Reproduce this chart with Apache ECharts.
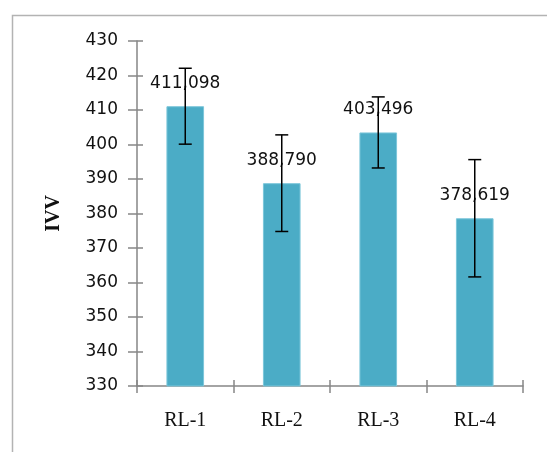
<!DOCTYPE html>
<html>
<head>
<meta charset="utf-8">
<script src="https://cdn.jsdelivr.net/npm/echarts@6/dist/echarts.min.js"></script>
<style>
html,body{margin:0;padding:0;background:#fff;}
#chart{width:547px;height:452px;}
</style>
</head>
<body>
<div id="chart"></div>
<script>
var categories = ['RL-1', 'RL-2', 'RL-3', 'RL-4'];
var ivvValues = [411.098, 388.790, 403.496, 378.619];
var ivvErrors = [11.0, 14.0, 10.3, 17.0];
var yTicks = [330, 340, 350, 360, 370, 380, 390, 400, 410, 420, 430];
var yAxisName = 'IVV';

var chart = echarts.init(document.getElementById('chart'), null, {renderer: 'canvas'});

var axisColor = '#868686';
var numFont = 'DejaVu Sans';
var serifFont = '"Liberation Serif", "Times New Roman", serif';

var errData = categories.map(function (c, i) {
  return [i, ivvValues[i] - ivvErrors[i], ivvValues[i] + ivvErrors[i]];
});

var yMin = yTicks[0], yMax = yTicks[yTicks.length - 1], yStep = yTicks[1] - yTicks[0];

var option = {
  backgroundColor: '#ffffff',
  animation: false,
  graphic: [{
    type: 'rect',
    left: 10, top: 13,
    shape: {width: 600, height: 500},
    style: {fill: 'none', stroke: '#b3b3b3', lineWidth: 1.5},
    silent: true
  }],
  grid: {left: 137, right: 24, top: 41, bottom: 66},
  xAxis: [{
    type: 'category',
    data: categories,
    axisLine: {lineStyle: {color: axisColor, width: 1.5}},
    axisTick: {show: true, length: 7, lineStyle: {color: axisColor, width: 1.5}},
    axisLabel: {fontFamily: serifFont, fontSize: 20, color: '#111', margin: 25}
  }, {
    type: 'category',
    data: categories,
    position: 'bottom',
    axisLine: {show: false},
    axisTick: {show: true, inside: true, length: 6, lineStyle: {color: axisColor, width: 1.5}},
    axisLabel: {show: false}
  }],
  yAxis: [{
    type: 'value',
    min: yMin, max: yMax, interval: yStep,
    name: yAxisName,
    nameLocation: 'middle',
    nameGap: 73,
    nameRotate: 90,
    nameTextStyle: {fontFamily: serifFont, fontWeight: 'bold', fontSize: 20, color: '#111'},
    splitLine: {show: false},
    axisLine: {show: true, lineStyle: {color: axisColor, width: 1.5}},
    axisTick: {show: true, length: 9, lineStyle: {color: axisColor, width: 1.5}},
    axisLabel: {fontFamily: numFont, fontSize: 17, color: '#111', margin: 19}
  }, {
    type: 'value',
    min: yMin, max: yMax, interval: yStep,
    position: 'left',
    splitLine: {show: false},
    axisLine: {show: false},
    axisTick: {show: true, inside: true, length: 6, lineStyle: {color: axisColor, width: 1.5}},
    axisLabel: {show: false}
  }],
  series: [{
    type: 'bar',
    data: ivvValues,
    barWidth: '39%',
    itemStyle: {color: '#4BACC6', borderColor: '#7cc6da', borderWidth: 1},
    label: {
      show: true,
      position: 'top',
      distance: 14.5,
      fontFamily: numFont,
      fontSize: 17,
      color: '#111',
      formatter: function (p) { return p.value.toFixed(3).replace('.', ','); }
    },
    z: 2
  }, {
    type: 'custom',
    data: errData,
    z: 10,
    renderItem: function (params, api) {
      var i = api.value(0);
      var lo = api.coord([i, api.value(1)]);
      var hi = api.coord([i, api.value(2)]);
      var hw = 6.5;
      var st = {stroke: '#000', lineWidth: 1.5};
      return {
        type: 'group',
        children: [
          {type: 'line', shape: {x1: hi[0], y1: hi[1], x2: lo[0], y2: lo[1]}, style: st},
          {type: 'line', shape: {x1: hi[0] - hw, y1: hi[1], x2: hi[0] + hw, y2: hi[1]}, style: st},
          {type: 'line', shape: {x1: lo[0] - hw, y1: lo[1], x2: lo[0] + hw, y2: lo[1]}, style: st}
        ]
      };
    }
  }]
};
chart.setOption(option);
</script>
</body>
</html>
